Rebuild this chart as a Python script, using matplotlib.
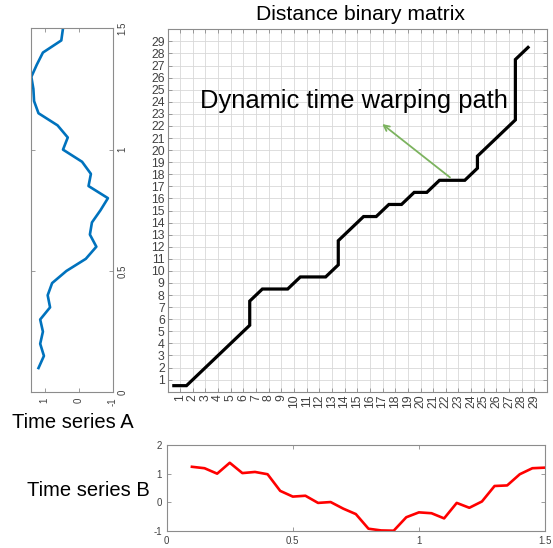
import numpy as np
import matplotlib
matplotlib.use("Agg")
import matplotlib.pyplot as plt

plt.rcParams['font.family'] = ['Liberation Sans', 'DejaVu Sans']

# ---------------- data ----------------
t_vals = [0.10, 0.15, 0.20, 0.25, 0.30, 0.35, 0.40, 0.45, 0.50, 0.55,
          0.60, 0.65, 0.70, 0.75, 0.80, 0.85, 0.90, 0.95, 1.00, 1.05,
          1.10, 1.15, 1.20, 1.25, 1.30, 1.35, 1.40, 1.45, 1.50]
series_a = [1.18, 1.02, 1.13, 1.05, 1.13, 0.84, 0.91, 0.78, 0.36, -0.21,
            -0.52, -0.33, -0.39, -0.64, -0.86, -0.29, -0.36, -0.10, 0.46, 0.32,
            0.62, 1.18, 1.31, 1.33, 1.39, 1.23, 1.05, 0.51, 0.46]
series_b = [1.24, 1.19, 1.00, 1.38, 1.02, 1.06, 0.98, 0.40, 0.20, 0.23,
            -0.02, 0.01, -0.22, -0.41, -0.92, -0.98, -0.99, -0.52, -0.35, -0.38,
            -0.56, -0.02, -0.19, 0.03, 0.57, 0.59, 0.98, 1.19, 1.21]
path_i = [1, 2, 3, 4, 5, 6, 7, 7, 7, 8, 9, 10, 11, 12, 13, 14, 14, 14, 15, 16,
          17, 18, 19, 20, 21, 22, 23, 24, 25, 25, 26, 27, 28, 28, 28, 28, 28, 28, 29]
path_j = [1, 1, 2, 3, 4, 5, 6, 7, 8, 9, 9, 9, 10, 10, 10, 11, 12, 13, 14, 15,
          15, 16, 16, 17, 17, 18, 18, 18, 19, 20, 21, 22, 23, 24, 25, 26, 27, 28, 29]
matrix_ticks = list(range(1, 30))
time_ticks = [0, 0.5, 1, 1.5]
time_ticklabels = ['0', '0.5', '1', '1.5']
value_ticks_a = [1, 0, -1]
value_ticks_b = [-1, 0, 1, 2]

title_text = "Distance binary matrix"
path_label = "Dynamic time warping path"
label_a = "Time series A"
label_b = "Time series B"

# ---------------- layout ----------------
W, H = 553, 548
fig = plt.figure(figsize=(W / 100, H / 100), dpi=100)


def px_axes(left, top, right, bottom):
    return fig.add_axes([left / W, 1 - bottom / H, (right - left) / W, (bottom - top) / H])


spine_col = '#8c8c8c'
tick_col = '#404040'


def style(ax, fs):
    for s in ax.spines.values():
        s.set_color(spine_col)
        s.set_linewidth(0.8)
    ax.tick_params(which='both', direction='in', length=3, width=0.6, color=spine_col,
                   labelcolor=tick_col, labelsize=fs,
                   top=True, right=True)


# main matrix axes
ax = px_axes(167.5, 29.3, 547, 391.7)
ax.set_xlim(0, 30)
ax.set_ylim(0, 30)
ax.set_xticks(matrix_ticks)
ax.set_yticks(matrix_ticks)
ax.set_xticklabels([str(v) for v in matrix_ticks], rotation=90)
ax.set_yticklabels([str(v) for v in matrix_ticks])
ax.grid(True, color='#d8d8d8', linewidth=0.6)
ax.set_axisbelow(True)
style(ax, 8.8)
ax.tick_params(pad=2)
ax.plot(np.array(path_i) - 0.5, np.array(path_j) - 0.5, color='black', lw=2.3,
        solid_joinstyle='miter', zorder=3)
ax.annotate('', xy=(16.8, 22.3), xytext=(22.5, 17.6),
            arrowprops=dict(arrowstyle='->', color='#7cb35f', lw=1.3,
                            mutation_scale=10), zorder=4)
ax.text(2.55, 24.1, path_label, fontsize=18.4, ha='left', va='center', color='black')

fig.text(360 / W, 1 - 14 / H, title_text, fontsize=15.2, ha='center', va='center')

# left axes: series A, rotated
axa = px_axes(31, 28.3, 112.7, 392.3)
axa.plot(series_a, t_vals, color='#0072BD', lw=1.9)
axa.set_xlim(1.4, -1)
axa.set_ylim(0, 1.5)
axa.set_xticks(value_ticks_a)
axa.set_xticklabels([str(v) for v in value_ticks_a], rotation=90)
axa.set_yticks(time_ticks)
axa.set_yticklabels(time_ticklabels, rotation=90, va='center')
style(axa, 7)
axa.tick_params(axis='y', labelleft=False, labelright=True)

# bottom axes: series B
axb = px_axes(166.7, 445, 545, 531)
axb.plot(t_vals, series_b, color='#ff0000', lw=1.9)
axb.set_xlim(0, 1.5)
axb.set_ylim(-1, 2)
axb.set_xticks(time_ticks)
axb.set_xticklabels(time_ticklabels)
axb.set_yticks(value_ticks_b)
axb.set_yticklabels([str(v) for v in value_ticks_b])
style(axb, 7)

fig.text(73 / W, 1 - 423 / H, label_a, fontsize=14.5, ha='center', va='center')
fig.text(88 / W, 1 - 490 / H, label_b, fontsize=14.5, ha='center', va='center')

fig.savefig('out.png', dpi=100)
